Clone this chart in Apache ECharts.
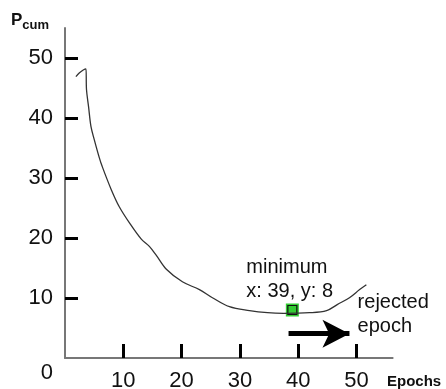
<!DOCTYPE html>
<html>
<head>
<meta charset="utf-8">
<script src="https://cdn.jsdelivr.net/npm/echarts@6/dist/echarts.min.js"></script>
<style>
  html, body { margin: 0; padding: 0; background: #fff; }
  #chart { width: 446px; height: 389px; }
</style>
</head>
<body>
<div id="chart"></div>
<script>
// Cumulative P per training epoch
const epochs = [1.87, 2.44, 3.13, 3.59, 3.69, 4.04, 4.45, 5.02, 5.88, 6.39, 7.94, 9.31, 11.03, 13.09, 14.47, 15.67, 17.39, 20.14, 23.06, 25.29, 28.21, 31.65, 34.74, 37.5, 41.96, 44.88, 46.7, 48.8, 50.55, 51.7];
const pcum   = [46.9, 47.5, 48.0, 48.2, 44.7, 41.9, 38.6, 36.4, 33.4, 31.9, 28.05, 25.2, 22.55, 19.8, 18.6, 17.1, 14.8, 12.7, 11.4, 10.05, 8.55, 7.9, 7.55, 7.45, 7.55, 7.9, 8.9, 10.05, 11.4, 12.2];

// Minimum of the curve
const minEpoch = [39];
const minValue = [8];

// Axis ticks
const xTicks = [10, 20, 30, 40, 50];
const yTicks = [10, 20, 30, 40, 50];
const yLabels = [0, 10, 20, 30, 40, 50];

// Arrow pointing at the rejected epochs
const arrowFrom = [38.35, 4.05];
const arrowTo = [48.8, 4.05];
const rejectedAt = [50.2, 7.2];

const font = '"Liberation Sans", Arial, sans-serif';
const green = '#33cc33';

const chart = echarts.init(document.getElementById('chart'), null, { renderer: 'canvas' });

chart.setOption({
  animation: false,
  backgroundColor: '#fff',
  textStyle: { fontFamily: font, color: '#111' },
  grid: { left: 65, right: 53.4, top: 28, bottom: 31, containLabel: false, outerBoundsMode: 'none' },
  xAxis: {
    type: 'value',
    min: 0,
    max: 56.2,
    name: 'Epochs',
    nameLocation: 'end',
    nameGap: -5.6,
    nameTextStyle: {
      fontFamily: font, fontSize: 15, fontWeight: 'bold', color: '#111',
      align: 'left', verticalAlign: 'top', padding: [16, 0, 0, 0]
    },
    splitLine: { show: false },
    axisLine: { show: true, lineStyle: { color: '#777', width: 2 } },
    axisTick: {
      show: true, inside: true, length: 14, customValues: xTicks,
      lineStyle: { color: '#000', width: 3 }
    },
    axisLabel: {
      customValues: xTicks, margin: 12,
      fontFamily: font, fontSize: 22, color: '#111'
    }
  },
  yAxis: {
    type: 'value',
    min: 0,
    max: 55,
    name: '{p|P}{s|cum}',
    nameLocation: 'end',
    nameGap: -4,
    nameTextStyle: {
      align: 'right', verticalAlign: 'bottom', padding: [0, 16, 0, 0],
      rich: {
        p: { fontFamily: font, fontSize: 17, fontWeight: 'bold', color: '#111' },
        s: { fontFamily: font, fontSize: 13, fontWeight: 'bold', color: '#111', padding: [11, 0, 0, 0] }
      }
    },
    splitLine: { show: false },
    axisLine: { show: true, lineStyle: { color: '#777', width: 2 } },
    axisTick: {
      show: true, inside: true, length: 13, customValues: yTicks,
      lineStyle: { color: '#000', width: 3 }
    },
    axisLabel: {
      customValues: yLabels, margin: 12,
      fontFamily: font, fontSize: 22, color: '#111',
      formatter: v => (v === 0 ? '{z|0}' : String(v)),
      rich: { z: { fontFamily: font, fontSize: 22, color: '#111', padding: [30, 0, 0, 0] } }
    }
  },
  series: [
    {
      type: 'line',
      data: epochs.map((e, i) => [e, pcum[i]]),
      showSymbol: false,
      smooth: 0.35,
      lineStyle: { color: '#333', width: 1.3 },
      silent: true,
      markLine: {
        silent: true,
        symbol: ['none', 'arrow'],
        symbolSize: [21, 27],
        label: { show: false },
        lineStyle: { color: '#000', width: 5, type: 'solid' },
        data: [[{ coord: arrowFrom }, { coord: arrowTo }]]
      },
      markPoint: {
        silent: true,
        symbol: 'circle',
        symbolSize: 0,
        data: [{ coord: rejectedAt }],
        label: {
          show: true,
          position: 'right',
          distance: 0,
          formatter: 'rejected\nepoch',
          align: 'left',
          verticalAlign: 'middle',
          fontFamily: font, fontSize: 20, lineHeight: 24, color: '#111'
        }
      }
    },
    {
      type: 'scatter',
      data: minEpoch.map((e, i) => [e, minValue[i]]),
      symbol: 'rect',
      symbolSize: 13,
      itemStyle: { color: green, opacity: 1 },
      silent: true,
      label: {
        show: true,
        position: 'top',
        distance: 0,
        offset: [-46, 0],
        align: 'left',
        formatter: p => 'minimum\nx: ' + p.value[0] + ', y: ' + p.value[1],
        fontFamily: font, fontSize: 20, lineHeight: 24, color: '#111',
        opacity: 1, textBorderWidth: 0
      }
    },
    {
      type: 'scatter',
      data: minEpoch.map((e, i) => [e, minValue[i]]),
      symbol: 'rect',
      symbolSize: 9,
      itemStyle: { color: green, borderColor: '#111', borderWidth: 1.2, opacity: 1 },
      silent: true
    }
  ]
});
</script>
</body>
</html>
